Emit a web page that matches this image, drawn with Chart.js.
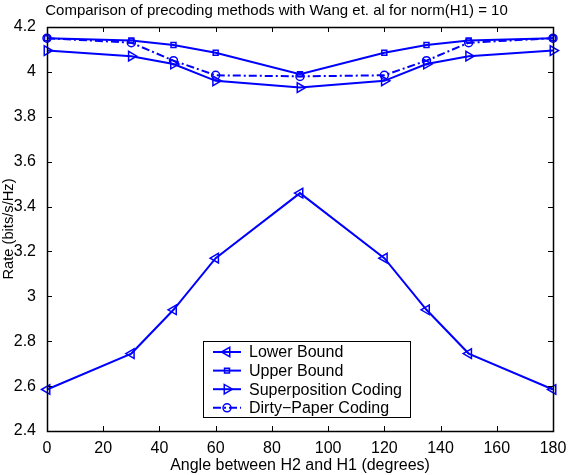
<!DOCTYPE html>
<html>
<head>
<meta charset="utf-8">
<script src="https://cdn.jsdelivr.net/npm/chart.js@4.4.1/dist/chart.umd.min.js"></script>
<style>
  html, body { margin: 0; padding: 0; background: #fff; }
  #wrap { width: 569px; height: 475px; }
</style>
</head>
<body>
<div id="wrap"><canvas id="chart" width="569" height="475"></canvas></div>
<script>
var angles = [0, 30, 45, 60, 90, 120, 135, 150, 180];
var lowerBound = [2.585, 2.745, 2.94, 3.17, 3.46, 3.17, 2.94, 2.745, 2.585];
var upperBound = [4.15, 4.14, 4.12, 4.085, 3.99, 4.085, 4.12, 4.14, 4.15];
var superposition = [4.095, 4.07, 4.035, 3.96, 3.93, 3.96, 4.035, 4.07, 4.095];
var dirtyPaper = [4.15, 4.13, 4.05, 3.985, 3.98, 3.985, 4.05, 4.13, 4.15];
var xTicks = [0, 20, 40, 60, 80, 100, 120, 140, 160, 180];
var yTicks = [2.4, 2.6, 2.8, 3, 3.2, 3.4, 3.6, 3.8, 4, 4.2];

var blue = '#0000ff';
var font = 'Liberation Sans, Arial, Helvetica, sans-serif';

function pts(ys) {
    return angles.map(function (a, i) { return { x: a, y: ys[i] }; });
}

var datasets = [{
    label: 'Lower Bound',
    data: pts(lowerBound),
    pointStyle: 'triangle',
    rotation: -90,
    pointRadius: 5.5,
    borderDash: []
}, {
    label: 'Upper Bound',
    data: pts(upperBound),
    pointStyle: 'rect',
    rotation: 0,
    pointRadius: 3.5,
    borderDash: []
}, {
    label: 'Superposition Coding',
    data: pts(superposition),
    pointStyle: 'triangle',
    rotation: 90,
    pointRadius: 5.5,
    borderDash: []
}, {
    label: 'Dirty\u2212Paper Coding',
    data: pts(dirtyPaper),
    pointStyle: 'circle',
    rotation: 0,
    pointRadius: 4,
    borderDash: [8, 3, 2, 3]
}];

datasets.forEach(function (d) {
    d.borderColor = blue;
    d.pointBorderColor = blue;
    d.pointBackgroundColor = 'rgba(0,0,0,0)';
    d.borderWidth = 2;
    d.pointBorderWidth = 1.5;
    d.tension = 0;
    d.fill = false;
    d.clip = false;
});

// box, inward ticks and the legend, matlab style
var matlabFrame = {
    id: 'matlabFrame',
    afterDraw: function (chart) {
        var ctx = chart.ctx;
        var a = chart.chartArea;
        var xs = chart.scales.x, ys = chart.scales.y;
        ctx.save();
        ctx.strokeStyle = '#000';
        ctx.lineWidth = 1;
        ctx.beginPath();
        xTicks.forEach(function (t) {
            var px = Math.round(xs.getPixelForValue(t)) + 0.5;
            ctx.moveTo(px, a.bottom); ctx.lineTo(px, a.bottom - 5);
            ctx.moveTo(px, a.top); ctx.lineTo(px, a.top + 5);
        });
        yTicks.forEach(function (t) {
            var py = Math.round(ys.getPixelForValue(t)) + 0.5;
            ctx.moveTo(a.left, py); ctx.lineTo(a.left + 5, py);
            ctx.moveTo(a.right, py); ctx.lineTo(a.right - 5, py);
        });
        ctx.stroke();
        ctx.lineWidth = 1.5;
        ctx.strokeRect(Math.round(a.left) + 0.5, Math.round(a.top) + 0.5,
            Math.round(a.right - a.left), Math.round(a.bottom - a.top));

        // legend
        var lx = a.left + 156, ly = a.bottom - 90, lw = 207, lh = 76;
        ctx.fillStyle = '#fff';
        ctx.fillRect(lx, ly, lw, lh);
        ctx.lineWidth = 1;
        ctx.strokeStyle = '#000';
        ctx.strokeRect(lx + 0.5, ly + 0.5, lw, lh);
        ctx.font = '16px ' + font;
        ctx.textBaseline = 'middle';
        datasets.forEach(function (d, i) {
            var y = ly + 11 + i * 18.6;
            ctx.strokeStyle = blue;
            ctx.lineWidth = 2;
            ctx.setLineDash(d.borderDash);
            ctx.beginPath();
            ctx.moveTo(lx + 10, y); ctx.lineTo(lx + 38, y);
            ctx.stroke();
            ctx.setLineDash([]);
            ctx.lineWidth = 1.5;
            ctx.fillStyle = 'rgba(0,0,0,0)';
            Chart.helpers.drawPoint(ctx, {
                pointStyle: d.pointStyle,
                rotation: d.rotation,
                radius: d.pointRadius,
                borderWidth: 1.5
            }, lx + 24, y);
            ctx.fillStyle = '#000';
            ctx.fillText(d.label, lx + 46, y + 1);
        });
        ctx.restore();
    }
};

var ctx = document.getElementById('chart');
var chart = new Chart(ctx, {
    type: 'line',
    data: { datasets: datasets },
    options: {
        responsive: false,
        animation: false,
        layout: { padding: { top: 0, right: 16, left: 0, bottom: 0 } },
        plugins: {
            legend: { display: false },
            tooltip: { enabled: false },
            title: {
                display: true,
                text: 'Comparison of precoding methods with Wang et. al for norm(H1) = 10',
                color: '#000',
                font: { family: font, size: 15, weight: 'normal' },
                padding: { top: 2, bottom: 7 }
            }
        },
        scales: {
            x: {
                type: 'linear',
                min: 0,
                max: 180,
                afterBuildTicks: function (s) {
                    s.ticks = xTicks.map(function (v) { return { value: v }; });
                },
                afterFit: function (s) { s.height = 44; },
                grid: { display: false },
                border: { display: false },
                ticks: {
                    color: '#000',
                    padding: 1,
                    maxRotation: 0,
                    font: { family: font, size: 16, lineHeight: 1.1 }
                },
                title: {
                    display: true,
                    text: 'Angle between H2 and H1 (degrees)',
                    color: '#000',
                    padding: { top: 0, bottom: 0 },
                    font: { family: font, size: 16 }
                }
            },
            y: {
                type: 'linear',
                min: 2.4,
                max: 4.2,
                afterBuildTicks: function (s) {
                    s.ticks = yTicks.map(function (v) { return { value: v }; });
                },
                afterFit: function (s) { s.width = 47; },
                grid: { display: false },
                border: { display: false },
                ticks: {
                    color: '#000',
                    padding: 3,
                    font: { family: font, size: 16 },
                    callback: function (v) { return String(Math.round(v * 10) / 10); }
                },
                title: {
                    display: true,
                    text: 'Rate (bits/s/Hz)',
                    color: '#000',
                    padding: { top: 0, bottom: 0 },
                    font: { family: font, size: 14.7 }
                }
            }
        }
    },
    plugins: [matlabFrame]
});
</script>
</body>
</html>
